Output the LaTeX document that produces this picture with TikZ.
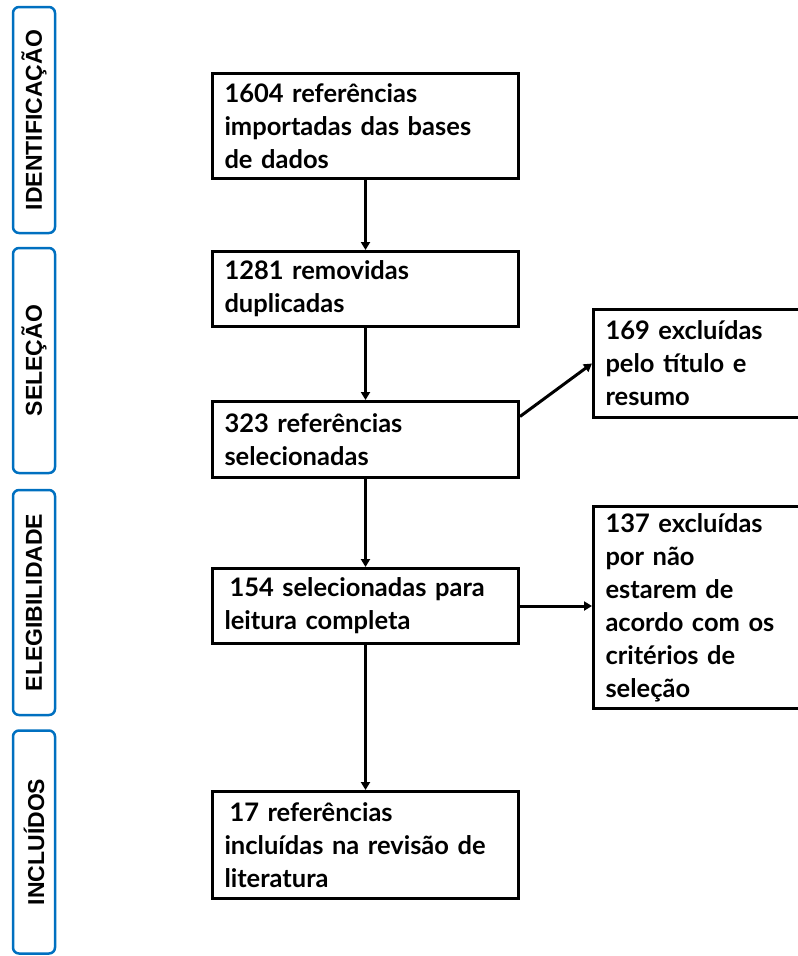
\documentclass[tikz,border=0pt]{standalone}
\usepackage{fontspec}
\setmainfont{Lato}
\newfontfamily\phasefont{Liberation Sans}
\usetikzlibrary{arrows.meta,positioning}
\definecolor{phaseblue}{RGB}{0,112,192}

\begin{document}
\begin{tikzpicture}[x=1pt,y=-1pt,
		box/.style={draw, line width=3pt, anchor=north west, align=left,
			inner xsep=12pt, inner ysep=0pt, minimum width=306, text width=282,
			font=\fontsize{25.5}{33}\selectfont\bfseries},
		sidebox/.style={box, minimum width=212, text width=188},
		phase/.style={draw=phaseblue, line width=2.5pt, rounded corners=6pt,
			rotate=90, minimum height=42, inner sep=0pt,
			font=\phasefont\fontsize{23}{24}\selectfont\bfseries},
		link/.style={line width=3pt, -{Triangle[length=8pt,width=9pt]}}]
	\useasboundingbox (0,0) rectangle (798,956);

	% phases
	\node[phase, minimum width=226] (L1) at (34,120) {IDENTIFICAÇÃO};
	\node[phase, minimum width=225] (L2) at (34,360.5) {SELEÇÃO};
	\node[phase, minimum width=225] (L3) at (34,602.5) {ELEGIBILIDADE};
	\node[phase, minimum width=223] (L4) at (34,842) {INCLUÍDOS};

	% main flow
	\node[box, minimum height=105] (A) at (211,72) {1604 referências\\importadas das bases\\de dados};
	\node[box, minimum height=75] (B) at (211,250) {1281 removidas\\duplicadas};
	\node[box, minimum height=76] (C) at (211,400) {323 referências\\selecionadas};
	\node[box, minimum height=75] (D) at (211,567) {\hspace*{5pt}154 selecionadas para\\leitura completa};
	\node[box, minimum height=107] (E) at (211,790) {\hspace*{5pt}17 referências\\incluídas na revisão de\\literatura};

	% exclusions
	\node[sidebox, minimum height=108] (C') at (592,308) {169 excluídas\\pelo título e\\resumo};
	\node[sidebox, minimum height=202] (D') at (592,505) {137 excluídas\\por não\\estarem de\\acordo com os\\critérios de\\seleção};

	\draw[link] (A) -- (B);
	\draw[link] (B) -- (C);
	\draw[link] (C) -- (D);
	\draw[link] (D) -- (E);
	\draw[link] ([yshift=23]C.east) -- (C'.west);
	\draw[link] (D) -- (D'.west |- D.east);
\end{tikzpicture}
\end{document}
